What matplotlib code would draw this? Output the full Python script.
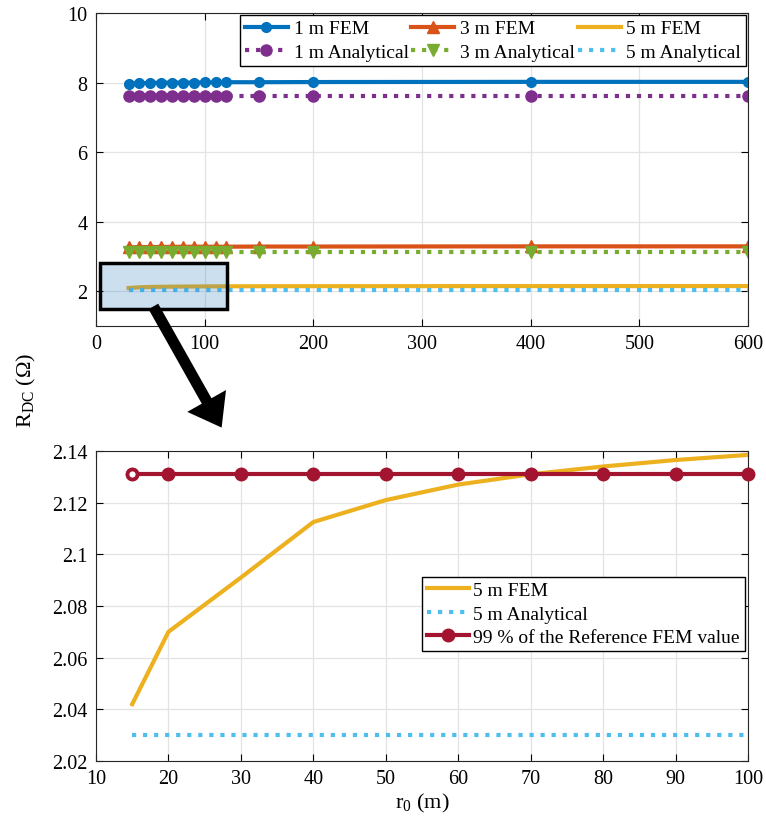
import matplotlib
matplotlib.use("Agg")
import matplotlib.pyplot as plt
import matplotlib.patches as mpatches

plt.rcParams['font.family'] = ['Liberation Serif', 'DejaVu Serif']
plt.rcParams['mathtext.fontset'] = 'custom'
plt.rcParams['mathtext.rm'] = 'Liberation Serif'
plt.rcParams['mathtext.it'] = 'Liberation Serif:italic'
plt.rcParams['font.size'] = 14

# top panel data
r0_top = [30, 40, 50, 60, 70, 80, 90, 100, 110, 120, 150, 200, 400, 600]
fem_1m = [7.97, 7.98, 7.99, 7.995, 8.0, 8.0, 8.0, 8.005, 8.005, 8.01, 8.01, 8.015, 8.02, 8.02]
ana_1m = [7.6] * 14
fem_3m = [3.26, 3.27, 3.27, 3.275, 3.275, 3.28, 3.28, 3.28, 3.28, 3.28, 3.285, 3.285, 3.29, 3.29]
ana_3m = [3.12] * 14
fem_5m_top = [2.091, 2.1125, 2.121, 2.127, 2.131, 2.134, 2.1365, 2.1385, 2.14, 2.141, 2.143, 2.145, 2.147, 2.148]
ana_5m_top = [2.03] * 14

# bottom panel (zoom) data
r0_zoom = [15, 20, 30, 40, 50, 60, 70, 80, 90, 100]
fem_5m = [2.042, 2.070, 2.091, 2.1125, 2.121, 2.127, 2.131, 2.134, 2.1365, 2.1385]
ana_5m = [2.03] * 10
ref_99 = [2.131] * 10

c_blue = '#0072BD'
c_orange = '#D95319'
c_yellow = '#EDB120'
c_purple = '#7E2F8E'
c_green = '#77AC30'
c_cyan = '#4DBEEE'
c_red = '#A2142F'

fig = plt.figure(figsize=(7.66, 8.29), dpi=100)
ax1 = fig.add_axes([96/766, 1-327/829, 652/766, 313/829])
ax2 = fig.add_axes([96/766, 1-762/829, 652/766, 310/829])

lw = 3
ax1.plot(r0_top, fem_1m, '-o', color=c_blue, lw=lw, ms=7, label='1 m FEM')
ax1.plot(r0_top, ana_1m, ':o', color=c_purple, lw=lw, ms=8, label='1 m Analytical')
ax1.plot(r0_top, fem_3m, '-^', color=c_orange, lw=lw, ms=8, label='3 m FEM')
ax1.plot(r0_top, ana_3m, ':v', color=c_green, lw=lw, ms=9, label='3 m Analytical')
ax1.plot(r0_top, fem_5m_top, '-', color=c_yellow, lw=lw, label='5 m FEM')
ax1.plot(r0_top, ana_5m_top, ':', color=c_cyan, lw=lw, label='5 m Analytical')

ax1.add_patch(mpatches.Rectangle((4, 1.5), 116.5, 1.3, facecolor=(0.2, 0.5, 0.75, 0.25),
                                 edgecolor='k', lw=2.5, zorder=5))

ax1.set_xlim(0, 600)
ax1.set_ylim(1, 10)
ax1.set_xticks([0, 100, 200, 300, 400, 500, 600])
ax1.set_yticks([2, 4, 6, 8, 10])
ax1.legend(ncol=3, loc='upper right', bbox_to_anchor=(1.0, 1.0), borderaxespad=0.1,
           fancybox=False, edgecolor='k', framealpha=1, fontsize=14,
           handlelength=2.2, handletextpad=0.3, columnspacing=0.15,
           labelspacing=0.3, borderpad=0.25)

ax2.plot(r0_zoom, fem_5m, '-', color=c_yellow, lw=lw, label='5 m FEM')
ax2.plot(r0_zoom, ana_5m, ':', color=c_cyan, lw=lw, label='5 m Analytical')
ax2.plot(r0_zoom, ref_99, '-o', color=c_red, lw=lw, ms=9,
         label='99 % of the Reference FEM value', clip_on=False, zorder=4)
ax2.plot(r0_zoom[:1], ref_99[:1], 'o', color=c_red, mfc='white', mew=2.5, ms=7,
         clip_on=False, zorder=5)
ax2.set_xlim(10, 100)
ax2.set_ylim(2.02, 2.14)
ax2.set_xticks(range(10, 101, 10))
ax2.set_yticks([2.02, 2.04, 2.06, 2.08, 2.1, 2.12, 2.14])
ax2.set_yticklabels(['2.02', '2.04', '2.06', '2.08', '2.1', '2.12', '2.14'])
ax2.legend(loc='center right', bbox_to_anchor=(0.995, 0.475), borderaxespad=0,
           fancybox=False, edgecolor='k', framealpha=1, fontsize=14,
           handlelength=2.2, handletextpad=0.2, labelspacing=0.3, borderpad=0.25)
ax2.set_xlabel('r$_0$ (m)', fontsize=16, labelpad=2)

for ax in (ax1, ax2):
    ax.grid(True, color='#e3e3e3', lw=0.9)
    ax.set_axisbelow(True)
    ax.tick_params(direction='in', top=True, right=True, length=5, width=0.8,
                   labelsize=14.5, pad=6)
    for s in ax.spines.values():
        s.set_color('#262626')
        s.set_linewidth(0.8)

fig.text(26/766, 1-390/829, 'R$_{\\mathrm{DC}}$ (Ω)', rotation=90, fontsize=16,
         ha='center', va='center')

arrow = mpatches.FancyArrowPatch((152/766, 1-305/829), (223/766, 1-431/829),
                                 transform=fig.transFigure,
                                 arrowstyle='simple,head_length=2.2,head_width=3.2,tail_width=0.8',
                                 mutation_scale=10, color='k', lw=0)
fig.add_artist(arrow)

fig.savefig('out.png', dpi=100)
